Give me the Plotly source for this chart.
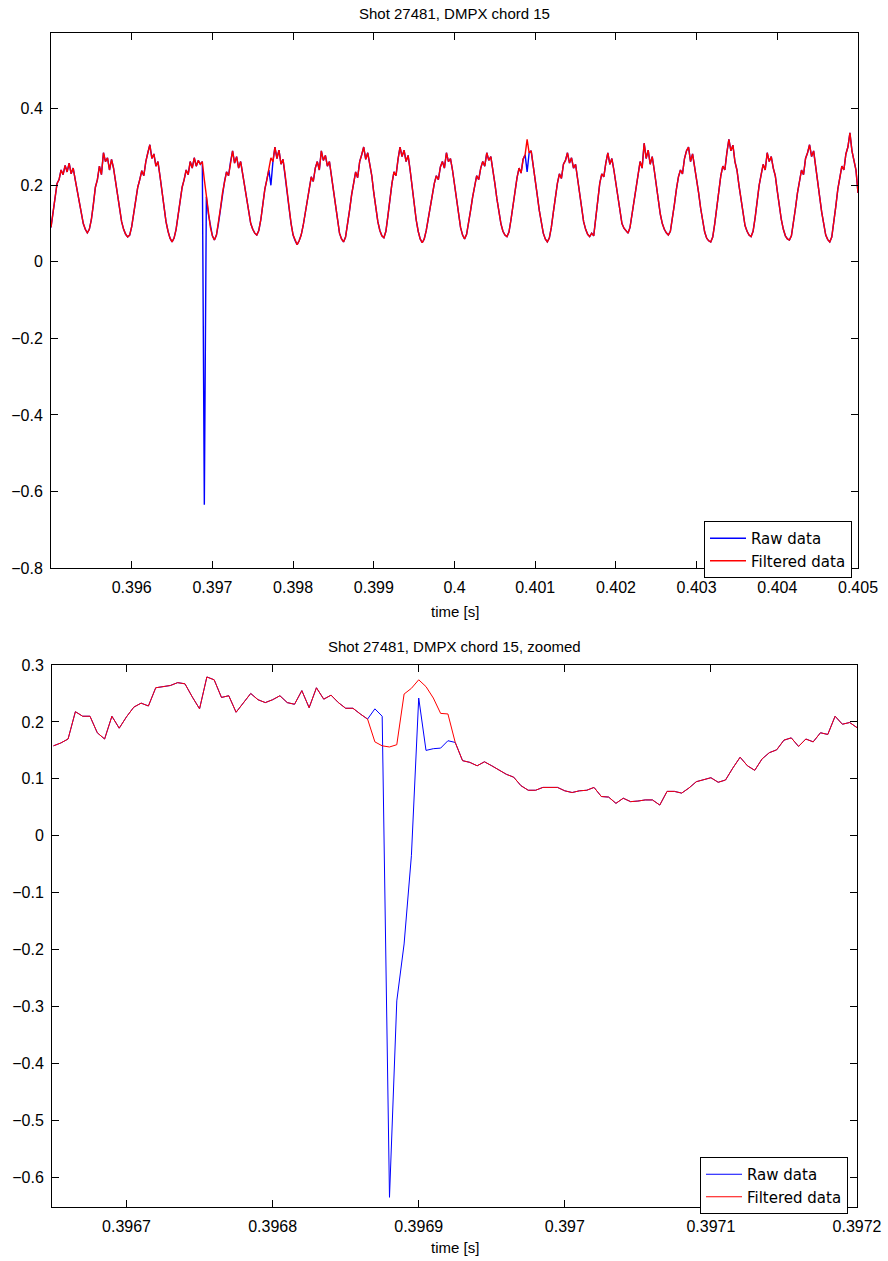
import plotly.graph_objects as go

W, H = 888, 1261

# ---------------- data: full window (regular sampling between t0 and t1) ----------------
top_t0, top_t1 = 0.395, 0.405
top_filtered = [
    0.090, 0.125, 0.160, 0.205, 0.215, 0.240, 0.228, 0.252, 0.235, 0.258, 0.230, 0.245, 0.215, 0.185, 0.150, 0.120, 0.100, 0.085,
    0.076, 0.085, 0.110, 0.150, 0.195, 0.215, 0.250, 0.228, 0.285, 0.262, 0.272, 0.240, 0.268, 0.245, 0.210, 0.170, 0.135, 0.105, 0.085, 0.072,
    0.065, 0.070, 0.092, 0.125, 0.160, 0.195, 0.215, 0.238, 0.225, 0.262, 0.285, 0.306, 0.270, 0.282, 0.250, 0.262, 0.225, 0.180, 0.140, 0.105, 0.080, 0.062,
    0.052, 0.062, 0.085, 0.120, 0.160, 0.195, 0.215, 0.240, 0.228, 0.262, 0.245, 0.272, 0.250, 0.265, 0.255, 0.262, 0.215, 0.170, 0.125, 0.090, 0.068,
    0.057, 0.070, 0.100, 0.140, 0.180, 0.210, 0.235, 0.225, 0.262, 0.290, 0.258, 0.275, 0.245, 0.262, 0.230, 0.195, 0.160, 0.125, 0.100, 0.085, 0.075,
    0.070, 0.082, 0.110, 0.150, 0.190, 0.215, 0.240, 0.272, 0.262, 0.300, 0.270, 0.292, 0.255, 0.268, 0.230, 0.185, 0.140, 0.100, 0.070, 0.055,
    0.045, 0.055, 0.070, 0.095, 0.130, 0.165, 0.200, 0.222, 0.210, 0.245, 0.262, 0.240, 0.290, 0.265, 0.278, 0.250, 0.262, 0.225, 0.185, 0.145, 0.105, 0.075, 0.060,
    0.052, 0.065, 0.095, 0.135, 0.175, 0.210, 0.235, 0.220, 0.262, 0.280, 0.300, 0.268, 0.285, 0.255, 0.225, 0.180, 0.140, 0.105, 0.082, 0.068,
    0.063, 0.080, 0.120, 0.165, 0.205, 0.235, 0.225, 0.268, 0.300, 0.275, 0.292, 0.262, 0.278, 0.240, 0.195, 0.150, 0.110, 0.080, 0.060,
    0.050, 0.060, 0.082, 0.115, 0.150, 0.180, 0.205, 0.225, 0.215, 0.248, 0.262, 0.245, 0.285, 0.262, 0.270, 0.240, 0.200, 0.160, 0.120, 0.090, 0.070,
    0.060, 0.072, 0.100, 0.135, 0.170, 0.200, 0.225, 0.215, 0.245, 0.262, 0.250, 0.285, 0.265, 0.275, 0.245, 0.205, 0.165, 0.130, 0.100, 0.080, 0.070,
    0.066, 0.078, 0.110, 0.150, 0.190, 0.220, 0.245, 0.232, 0.268, 0.280, 0.320, 0.285, 0.290, 0.255, 0.220, 0.175, 0.135, 0.100, 0.075, 0.060,
    0.052, 0.062, 0.090, 0.130, 0.170, 0.205, 0.230, 0.218, 0.255, 0.265, 0.285, 0.258, 0.272, 0.245, 0.255, 0.215, 0.175, 0.135, 0.105, 0.085, 0.072,
    0.066, 0.075, 0.068, 0.110, 0.165, 0.205, 0.230, 0.222, 0.258, 0.285, 0.255, 0.270, 0.240, 0.205, 0.160, 0.125, 0.100, 0.088, 0.080,
    0.075, 0.090, 0.125, 0.165, 0.205, 0.230, 0.262, 0.245, 0.310, 0.270, 0.292, 0.255, 0.275, 0.240, 0.200, 0.160, 0.125, 0.100, 0.085, 0.076,
    0.070, 0.080, 0.110, 0.150, 0.190, 0.222, 0.240, 0.230, 0.270, 0.290, 0.300, 0.262, 0.282, 0.250, 0.220, 0.180, 0.140, 0.105, 0.078, 0.062, 0.055,
    0.052, 0.065, 0.100, 0.145, 0.190, 0.225, 0.250, 0.240, 0.285, 0.320, 0.290, 0.305, 0.262, 0.240, 0.200, 0.160, 0.125, 0.095, 0.080, 0.070,
    0.066, 0.080, 0.115, 0.160, 0.200, 0.228, 0.255, 0.240, 0.285, 0.262, 0.275, 0.245, 0.225, 0.185, 0.145, 0.110, 0.085, 0.068, 0.060,
    0.057, 0.068, 0.100, 0.140, 0.180, 0.215, 0.240, 0.228, 0.270, 0.285, 0.306, 0.275, 0.290, 0.250, 0.215, 0.170, 0.130, 0.095, 0.070, 0.058,
    0.052, 0.065, 0.100, 0.145, 0.190, 0.225, 0.250, 0.240, 0.282, 0.300, 0.337, 0.290, 0.262, 0.240, 0.180,
]
# raw data equals filtered data except at these samples
top_raw_idx = [76, 109, 236]
top_raw_val = [-0.635, 0.200, 0.235]

# ---------------- data: zoomed window (5 microsecond sampling) ----------------
zoom_t0, zoom_dt = 0.39665, 5e-6
zoom_filtered = [
    0.158, 0.163, 0.170, 0.218, 0.210, 0.210, 0.181, 0.170, 0.210, 0.189,
    0.209, 0.226, 0.233, 0.228, 0.260, 0.262, 0.264, 0.269, 0.267, 0.244,
    0.223, 0.279, 0.274, 0.243, 0.246, 0.217, 0.234, 0.250, 0.239, 0.234,
    0.239, 0.246, 0.234, 0.231, 0.255, 0.225, 0.260, 0.240, 0.247, 0.234,
    0.224, 0.224, 0.214, 0.205, 0.165, 0.158, 0.156, 0.160, 0.249, 0.259,
    0.274, 0.262, 0.242, 0.215, 0.214, 0.164, 0.132, 0.129, 0.123, 0.130,
    0.123, 0.116, 0.108, 0.103, 0.088, 0.080, 0.080, 0.085, 0.085, 0.085,
    0.079, 0.076, 0.079, 0.080, 0.085, 0.069, 0.068, 0.057, 0.066, 0.060,
    0.061, 0.063, 0.063, 0.054, 0.078, 0.078, 0.075, 0.084, 0.095, 0.098,
    0.102, 0.094, 0.098, 0.119, 0.138, 0.123, 0.115, 0.135, 0.146, 0.151,
    0.168, 0.172, 0.157, 0.170, 0.165, 0.181, 0.178, 0.210, 0.196, 0.199,
    0.190,
]
zoom_raw_idx = [44, 45, 46, 47, 48, 49, 50, 51, 52, 53, 54, 55]
zoom_raw_val = [0.223, 0.210, -0.635, -0.290, -0.190, -0.035, 0.242, 0.150, 0.153, 0.154, 0.167, 0.164]

top_xticks = [0.396, 0.397, 0.398, 0.399, 0.400, 0.401, 0.402, 0.403, 0.404, 0.405]
top_xtext = ["0.396", "0.397", "0.398", "0.399", "0.4", "0.401", "0.402", "0.403", "0.404", "0.405"]
top_yticks = [-0.8, -0.6, -0.4, -0.2, 0.0, 0.2, 0.4]
top_ytext = ["\u22120.8", "\u22120.6", "\u22120.4", "\u22120.2", "0", "0.2", "0.4"]
zoom_xticks = [0.3967, 0.3968, 0.3969, 0.3970, 0.3971, 0.3972]
zoom_xtext = ["0.3967", "0.3968", "0.3969", "0.397", "0.3971", "0.3972"]
zoom_yticks = [-0.6, -0.5, -0.4, -0.3, -0.2, -0.1, 0.0, 0.1, 0.2, 0.3]
zoom_ytext = ["\u22120.6", "\u22120.5", "\u22120.4", "\u22120.3", "\u22120.2", "\u22120.1", "0", "0.1", "0.2", "0.3"]

title_top = "Shot 27481, DMPX chord 15"
title_zoom = "Shot 27481, DMPX chord 15, zoomed"
xlabel = "time [s]"

# ---------------- build series ----------------
n_top = len(top_filtered)
top_t = [top_t0 + i * (top_t1 - top_t0) / (n_top - 1) for i in range(n_top)]
top_raw = list(top_filtered)
for i, v in zip(top_raw_idx, top_raw_val):
    top_raw[i] = v

zoom_t = [zoom_t0 + k * zoom_dt for k in range(len(zoom_filtered))]
zoom_raw = list(zoom_filtered)
for i, v in zip(zoom_raw_idx, zoom_raw_val):
    zoom_raw[i] = v

BLUE = "#0000ff"
RED = "#ff0000"
FONT = "Liberation Sans, Arial, Helvetica, sans-serif"
LEGFONT = "DejaVu Sans, Liberation Sans, sans-serif"

fig = go.Figure()
fig.add_trace(go.Scatter(x=top_t, y=top_raw, mode="lines", name="Raw data",
                         line=dict(color=BLUE, width=1.4), xaxis="x", yaxis="y", legend="legend"))
fig.add_trace(go.Scatter(x=top_t, y=top_filtered, mode="lines", name="Filtered data",
                         line=dict(color=RED, width=1.4), xaxis="x", yaxis="y", legend="legend"))
fig.add_trace(go.Scatter(x=zoom_t, y=zoom_raw, mode="lines", name="Raw data",
                         line=dict(color=BLUE, width=1), xaxis="x2", yaxis="y2", legend="legend2"))
fig.add_trace(go.Scatter(x=zoom_t, y=zoom_filtered, mode="lines", name="Filtered data",
                         line=dict(color=RED, width=1), xaxis="x2", yaxis="y2", legend="legend2"))


def px_x(p):
    return p / W


def px_y(p):
    return 1 - p / H


axis_common = dict(showgrid=False, zeroline=False, showline=True, linecolor="black", linewidth=1,
                   mirror="ticks", ticks="inside", ticklen=7, tickcolor="black", tickwidth=1,
                   tickfont=dict(family=FONT, size=16, color="black"), tickmode="array",
                   automargin=False)

legend_common = dict(xanchor="right", yanchor="top", bgcolor="white", bordercolor="black",
                     borderwidth=1, font=dict(family=LEGFONT, size=15, color="black"),
                     tracegroupgap=0, itemwidth=36)

fig.update_layout(
    width=W, height=H, margin=dict(l=0, r=0, t=0, b=0, pad=0, autoexpand=False),
    paper_bgcolor="white", plot_bgcolor="white",
    font=dict(family=FONT, size=15, color="black"),
    xaxis=dict(domain=[px_x(51), px_x(858)], range=[top_t0, top_t1], anchor="y",
               tickvals=top_xticks, ticktext=top_xtext, ticklabelstandoff=5, **axis_common),
    yaxis=dict(domain=[px_y(568), px_y(33)], range=[-0.8, 0.598], anchor="x",
               tickvals=top_yticks, ticktext=top_ytext, ticklabelstandoff=4, **axis_common),
    xaxis2=dict(domain=[px_x(52), px_x(857)], range=[0.396649, 0.3972], anchor="y2",
                tickvals=zoom_xticks, ticktext=zoom_xtext, ticklabelstandoff=5, **axis_common),
    yaxis2=dict(domain=[px_y(1207), px_y(665)], range=[-0.652, 0.3], anchor="x2",
                tickvals=zoom_yticks, ticktext=zoom_ytext, ticklabelstandoff=4, **axis_common),
    legend=dict(x=px_x(852), y=px_y(521), **legend_common),
    legend2=dict(x=px_x(848), y=px_y(1157), **legend_common),
    showlegend=True,
    annotations=[
        dict(text=title_top, x=px_x(454.5), y=px_y(14), xref="paper", yref="paper",
             xanchor="center", yanchor="middle", showarrow=False, font=dict(family=FONT, size=15)),
        dict(text=xlabel, x=px_x(454.5), y=px_y(611), xref="paper", yref="paper",
             xanchor="center", yanchor="middle", showarrow=False, font=dict(family=FONT, size=15)),
        dict(text=title_zoom, x=px_x(454.5), y=px_y(647), xref="paper", yref="paper",
             xanchor="center", yanchor="middle", showarrow=False, font=dict(family=FONT, size=15)),
        dict(text=xlabel, x=px_x(454.5), y=px_y(1247), xref="paper", yref="paper",
             xanchor="center", yanchor="middle", showarrow=False, font=dict(family=FONT, size=15)),
    ],
)

fig.write_html("out.html")
